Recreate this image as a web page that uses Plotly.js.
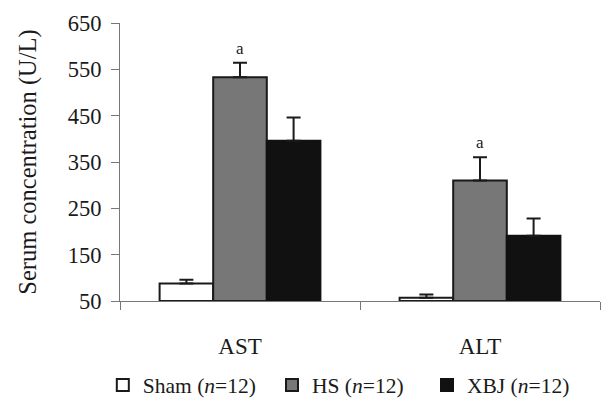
<!DOCTYPE html>
<html>
<head>
<meta charset="utf-8">
<script src="https://cdn.plot.ly/plotly-3.0.1.min.js"></script>
<style>html,body{margin:0;padding:0;background:#fff;}#chart{width:601px;height:398px;}</style>
</head>
<body>
<div id="chart"></div>
<script>
const categories = ["AST", "ALT"];
const seriesNames = ["Sham (<i>n</i>=12)", "HS (<i>n</i>=12)", "XBJ (<i>n</i>=12)"];
const shamValues = [88, 57];
const shamErrors = [8, 7];
const hsValues = [533, 310];
const hsErrors = [31, 50];
const xbjValues = [396, 191];
const xbjErrors = [50, 37];
const sigLabels = ["a", "a"];
const yTicks = [50, 150, 250, 350, 450, 550, 650];

const BASE = 50;
const FONT = "Liberation Serif";

function barTrace(name, vals, errs, fill, lineColor, legendId) {
  return {
    type: "bar",
    name: name,
    legend: legendId,
    x: categories,
    y: vals.map(v => v - BASE),
    base: vals.map(() => BASE),
    marker: {color: fill, line: {color: lineColor, width: 2}},
    error_y: {type: "data", array: errs, arrayminus: errs.map(() => 0), symmetric: false,
              color: "#1a1a1a", thickness: 2, width: 7},
    hoverinfo: "skip"
  };
}

const data = [
  barTrace(seriesNames[0], shamValues, shamErrors, "#ffffff", "#1a1a1a", "legend"),
  barTrace(seriesNames[1], hsValues, hsErrors, "#777777", "#1a1a1a", "legend2"),
  barTrace(seriesNames[2], xbjValues, xbjErrors, "#111111", "#111111", "legend3")
];

const annotations = categories.map((c, i) => ({
  x: c, y: hsValues[i] + hsErrors[i], xref: "x", yref: "y",
  text: sigLabels[i], showarrow: false, yanchor: "bottom", yshift: 3,
  font: {family: FONT, size: 17, color: "#222"}
}));

function legendAt(xp) {
  return {orientation: "h", x: xp, xanchor: "left", y: -0.302, yanchor: "middle",
          bgcolor: "rgba(0,0,0,0)",
          font: {family: FONT, size: 21.5, color: "#1a1a1a"}};
}

const layout = {
  width: 601, height: 398,
  margin: {l: 120, r: 1, t: 23, b: 97, autoexpand: false},
  paper_bgcolor: "#ffffff", plot_bgcolor: "#ffffff",
  font: {family: FONT, size: 22, color: "#1a1a1a"},
  barmode: "group", bargap: 0.33, bargroupgap: 0,
  showlegend: true,
  legend: legendAt(-0.0358),
  legend2: legendAt(0.3167),
  legend3: legendAt(0.6396),
  xaxis: {
    type: "category", showline: true, linecolor: "#777", linewidth: 1,
    ticks: "outside", tickson: "boundaries", ticklen: 8, tickcolor: "#777",
    ticklabelstandoff: 24, tickfont: {family: FONT, size: 23, color: "#1a1a1a"},
    showgrid: false, zeroline: false, fixedrange: true, automargin: false
  },
  yaxis: {
    range: [50, 650], tickvals: yTicks, ticktext: yTicks.map(String),
    showline: true, linecolor: "#777", linewidth: 1,
    ticks: "outside", ticklen: 8, tickcolor: "#777", ticklabelstandoff: 5,
    tickfont: {family: FONT, size: 22.5, color: "#1a1a1a"},
    showgrid: false, zeroline: false, automargin: false,
    title: {text: "Serum concentration (U/L)", font: {family: FONT, size: 24.5, color: "#1a1a1a"}, standoff: 24},
    fixedrange: true
  },
  annotations: annotations
};

Plotly.newPlot("chart", data, layout, {displayModeBar: false, staticPlot: true});
</script>
</body>
</html>
